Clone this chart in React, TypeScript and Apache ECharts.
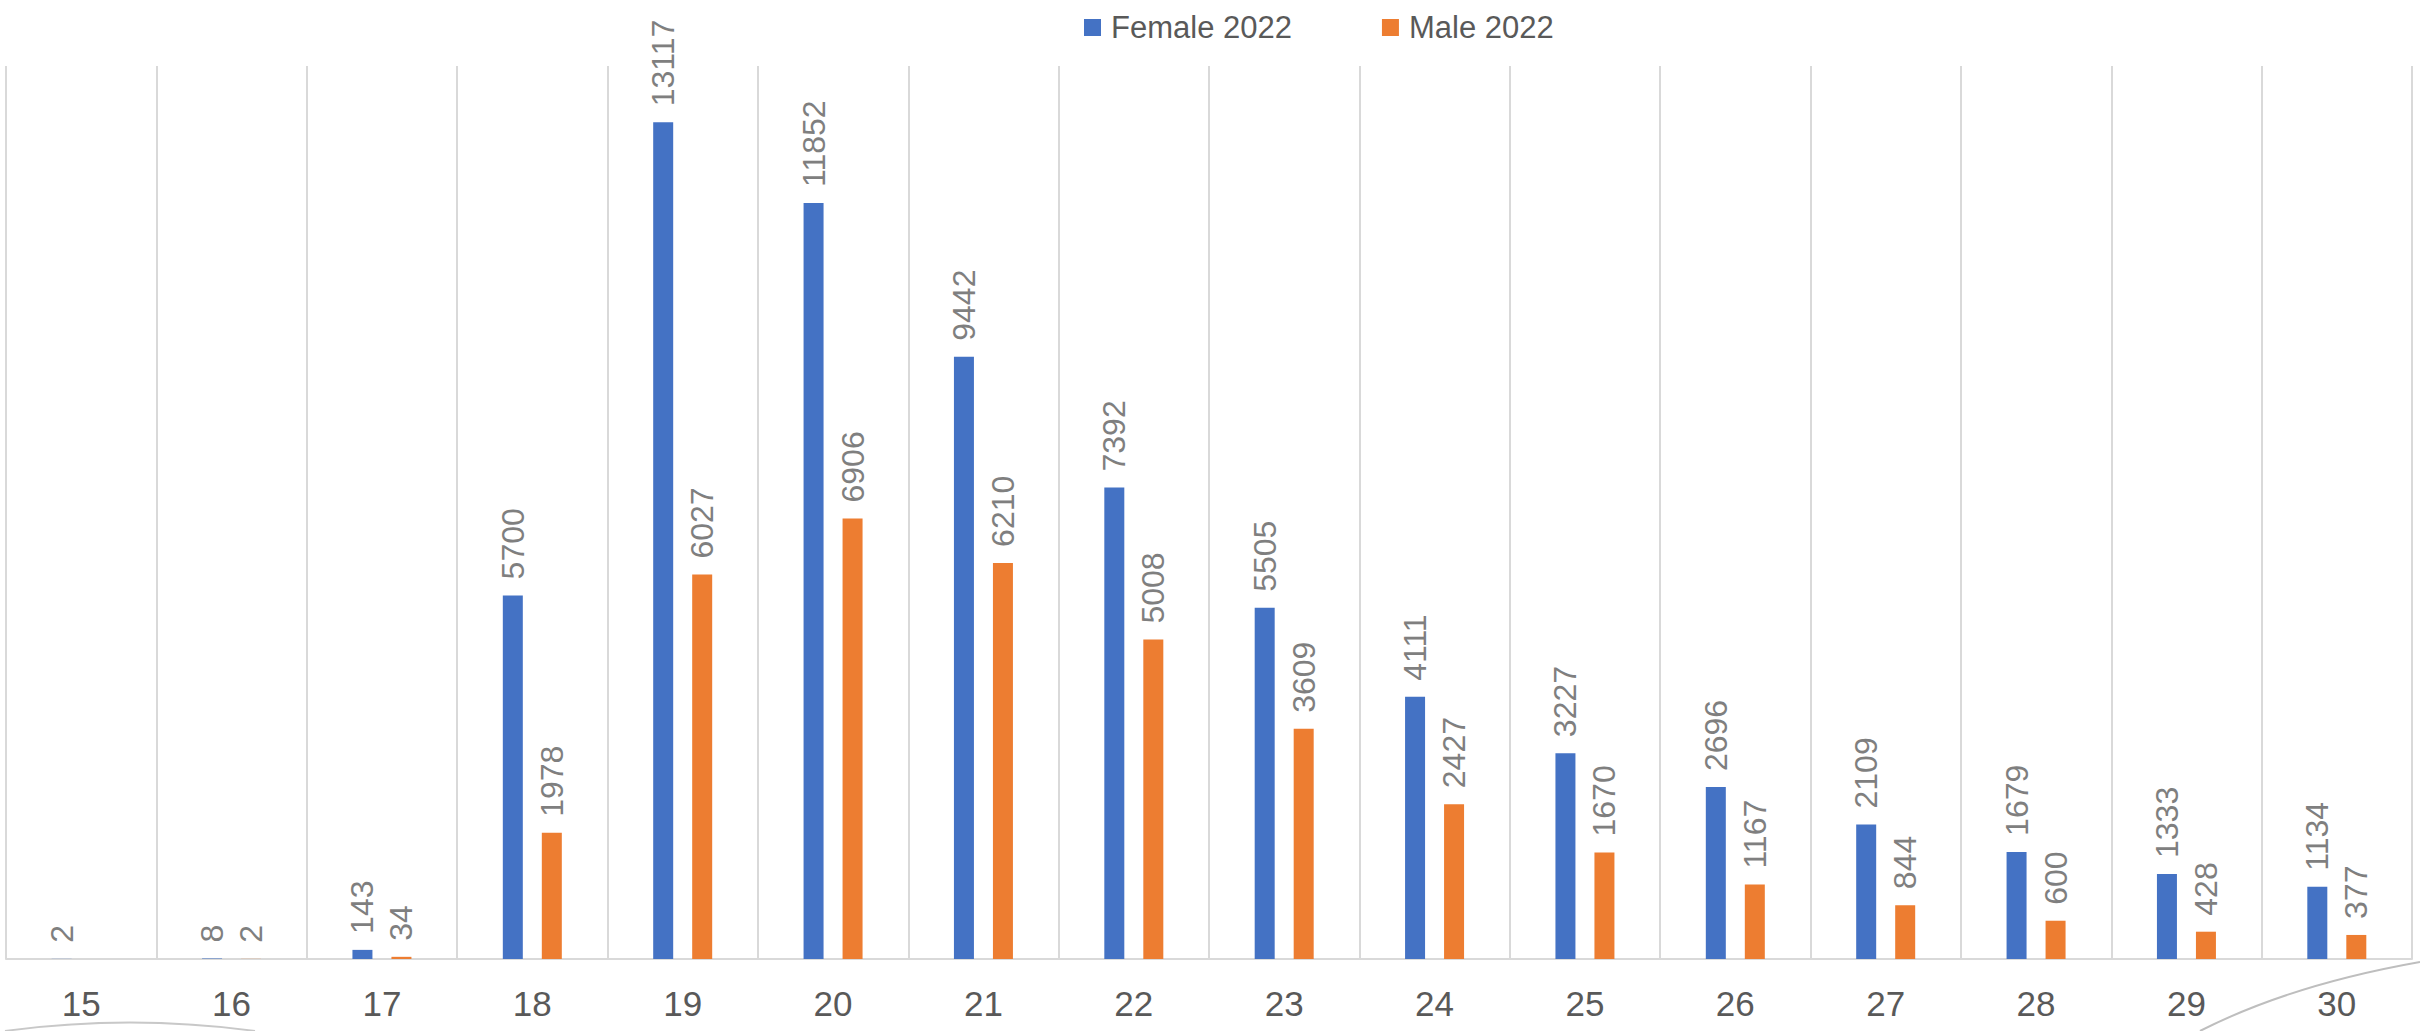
import React, { useEffect, useRef } from "react";
import * as echarts from "echarts";

const ages = ["15", "16", "17", "18", "19", "20", "21", "22", "23", "24", "25", "26", "27", "28", "29", "30"];
const female2022 = [2, 8, 143, 5700, 13117, 11852, 9442, 7392, 5505, 4111, 3227, 2696, 2109, 1679, 1333, 1134];
const male2022 = [null, 2, 34, 1978, 6027, 6906, 6210, 5008, 3609, 2427, 1670, 1167, 844, 600, 428, 377];

const FONT = "'Liberation Sans Narrow', 'Arial Narrow', 'Liberation Sans', Arial, sans-serif";

export default function App() {
  const ref = useRef<HTMLDivElement>(null);
  useEffect(() => {
    document.body.style.margin = "0";
    const chart = echarts.init(ref.current!, null, { renderer: "svg" });
    const label = {
      show: true,
      position: "top",
      rotate: 90,
      align: "left",
      verticalAlign: "middle",
      distance: 16,
      color: "#7F7F7F",
      fontSize: 32,
      fontFamily: FONT,
    };
    chart.setOption({
      animation: false,
      backgroundColor: "#ffffff",
      legend: {
        left: 1079,
        top: 7,
        itemWidth: 17,
        itemHeight: 17,
        itemGap: 90,
        icon: "rect",
        textStyle: { color: "#595959", fontSize: 31, fontFamily: FONT, padding: [0, 0, 0, 5] },
        data: ["Female 2022", "Male 2022"],
      },
      grid: { left: 6, right: 8, top: 66, bottom: 72, containLabel: false },
      xAxis: {
        type: "category",
        data: ages,
        axisLine: { show: true, lineStyle: { color: "#D9D9D9", width: 2 } },
        axisTick: { show: false },
        axisLabel: { color: "#595959", fontSize: 35, fontFamily: FONT, margin: 27 },
        splitLine: { show: true, lineStyle: { color: "#D9D9D9", width: 2 } },
      },
      yAxis: { type: "value", min: 0, max: 14000, show: false, splitLine: { show: false } },
      series: [
        {
          name: "Female 2022",
          type: "bar",
          data: female2022,
          barWidth: 20,
          barGap: "95%",
          itemStyle: { color: "#4472C4" },
          label,
        },
        {
          name: "Male 2022",
          type: "bar",
          data: male2022,
          barWidth: 20,
          itemStyle: { color: "#ED7D31" },
          label,
        },
      ],
      graphic: [
        {
          type: "bezierCurve",
          shape: { x1: 5, y1: 1031, cpx1: 130, cpy1: 1014, x2: 255, y2: 1031 },
          style: { stroke: "#C8C8C8", lineWidth: 2, fill: null },
          silent: true,
        },
        {
          type: "bezierCurve",
          shape: { x1: 2200, y1: 1031, cpx1: 2290, cpy1: 985, x2: 2420, y2: 962 },
          style: { stroke: "#BEBEBE", lineWidth: 2, fill: null },
          silent: true,
        },
      ],
    });
    return () => chart.dispose();
  }, []);
  return <div ref={ref} style={{ width: 2420, height: 1031 }} />;
}
